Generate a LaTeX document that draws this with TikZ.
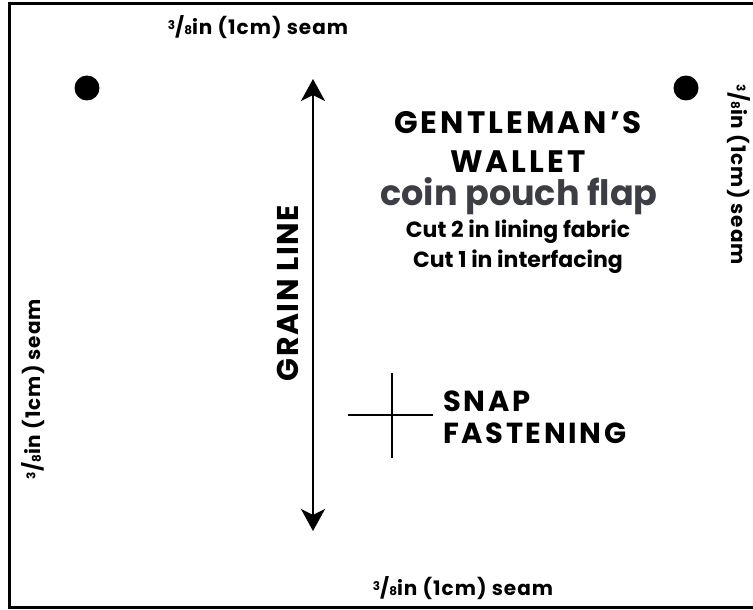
\documentclass[tikz,border=0pt]{standalone}
\usepackage{fontspec}
\setmainfont{Poppins}[BoldFont={* Bold}]
\usetikzlibrary{arrows.meta}
\definecolor{subgrey}{HTML}{3D3D45}
\newcommand{\threeeighths}{\raisebox{0.45ex}{\scalebox{0.6}{3}}/\raisebox{-0.05ex}{\scalebox{0.6}{8}}}
\tikzset{
  seam/.style={font=\bfseries\fontsize{20}{24}\selectfont\addfontfeature{LetterSpace=5}, inner sep=0pt},
  title/.style={font=\bfseries\fontsize{31}{36}\selectfont\addfontfeature{LetterSpace=10}, inner sep=0pt},
  small/.style={font=\bfseries\fontsize{22}{26}\selectfont, inner sep=0pt},
  dot/.style={circle, fill=black, minimum size=25pt, inner sep=0pt},
  grainarrow/.style={line width=2.2pt, >={Stealth[length=22pt,width=24pt,inset=6pt]}, <->},
}
\begin{document}
\begin{tikzpicture}[x=1pt,y=-1pt]
\useasboundingbox (0,0) rectangle (753,610);
\draw[line width=3pt] (760,4) -- (9,4) -- (9,607) -- (760,607);
\node[seam] (topseam) at (258,27) {\threeeighths in (1cm) seam};
\node[seam] (botseam) at (463,588) {\threeeighths in (1cm) seam};
\node[seam, rotate=90] (leftseam) at (33,389) {\threeeighths in (1cm) seam};
\node[seam, rotate=-90] (rightseam) at (739,175) {\threeeighths in (1cm) seam};
\node[dot] (dotl) at (87,88) {};
\node[dot] (dotr) at (686,88) {};
\coordinate (gtop) at (313,79);
\coordinate (gbot) at (313,531);
\draw[grainarrow] (gtop) -- (gbot);
\node[title, rotate=90, font=\bfseries\fontsize{30}{34}\selectfont\addfontfeature{LetterSpace=5}] (grain) at (288,293) {GRAIN LINE};
\node[title] (t1) at (518,123) {GENTLEMAN’S};
\node[title] (t2) at (518,162) {WALLET};
\node[title, text=subgrey, font=\bfseries\fontsize{35}{40}\selectfont] (t3) at (519,196) {coin pouch flap};
\node[small] (t4) at (518,232) {Cut 2 in lining fabric};
\node[small] (t5) at (518,262) {Cut 1 in interfacing};
\coordinate (hl) at (348,415);
\coordinate (hr) at (433,415);
\coordinate (vt) at (392,373);
\coordinate (vb) at (392,458);
\draw[line width=1.8pt] (hl) -- (hr);
\draw[line width=1.8pt] (vt) -- (vb);
\node[title, anchor=west, align=left, font=\bfseries\fontsize{29}{32}\selectfont\addfontfeature{LetterSpace=9}] (snap) at (443,417) {SNAP\\FASTENING};
\end{tikzpicture}
\end{document}
